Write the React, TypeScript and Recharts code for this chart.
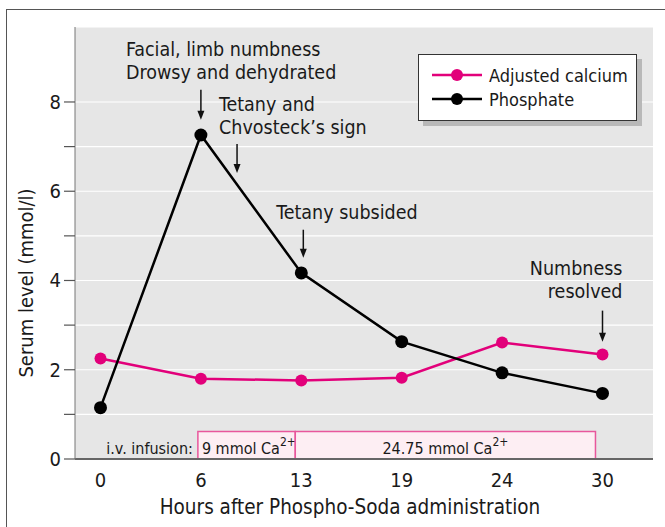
import { LineChart, Line, XAxis, YAxis, CartesianGrid, Legend, ReferenceArea, ReferenceDot } from 'recharts'

const hours = ['0', '6', '13', '19', '24', '30']
const calcium = [2.25, 1.8, 1.76, 1.82, 2.61, 2.34]
const phosphate = [1.15, 7.26, 4.17, 2.63, 1.93, 1.47]
const yTicks = [0, 1, 2, 3, 4, 5, 6, 7, 8]

// infusion periods, in x-index units
const infusionFrom = [0.97, 1.94]
const infusionTo = [1.94, 4.93]
const infusionDose = ['9 mmol Ca', '24.75 mmol Ca']

// annotation arrow tips (x index, serum level) and their text
const noteX = [1, 1.36, 2.02, 5]
const noteY = [7.6, 6.41, 4.51, 2.63]
const noteText = [
  ['Facial, limb numbness', 'Drowsy and dehydrated'],
  ['Tetany and', 'Chvosteck\u2019s sign'],
  ['Tetany subsided'],
  ['Numbness', 'resolved'],
]

const FONT = '"DejaVu Sans Condensed", "Liberation Sans", sans-serif'
const PINK = '#e2007a'
const TEXT = '#1a1a1a'

const data = hours.map((h, i) => ({ idx: i, hour: h, calcium: calcium[i], phosphate: phosphate[i] }))

// text offsets relative to arrow tip
const noteLayout = [
  { dx: -75, dy: -64, anchor: 'start', len: 30 },
  { dx: -18, dy: -62, anchor: 'start', len: 29 },
  { dx: -27, dy: -39, anchor: 'start', len: 28 },
  { dx: 20, dy: -67, anchor: 'end', len: 31 },
]
const LINE_GAP = 23

function Note({ cx, cy, i }: any) {
  const l = noteLayout[i]
  return (
    <g>
      <line x1={cx} y1={cy - l.len} x2={cx} y2={cy - 6} stroke="#111" strokeWidth={1.5} />
      <path d={`M${cx - 3.5},${cy - 9} L${cx + 3.5},${cy - 9} L${cx},${cy} Z`} fill="#111" />
      {noteText[i].map((t, k) => (
        <text key={k} x={cx + l.dx} y={cy + l.dy + k * LINE_GAP} textAnchor={l.anchor} fontSize={19.5} fill={TEXT} fontFamily={FONT}>
          {t}
        </text>
      ))}
    </g>
  )
}

function YTick({ x, y, payload }: any) {
  if (payload.value % 2 !== 0) return null
  return (
    <text x={x} y={y + 7} textAnchor="end" fontSize={20} fill={TEXT} fontFamily={FONT}>
      {payload.value}
    </text>
  )
}

function XTick({ x, y, payload }: any) {
  return (
    <text x={x} y={y + 26} textAnchor="middle" fontSize={20} fill={TEXT} fontFamily={FONT}>
      {hours[payload.value]}
    </text>
  )
}

function LegendBox() {
  const rows = [
    { name: 'Adjusted calcium', color: PINK },
    { name: 'Phosphate', color: '#000' },
  ]
  return (
    <div style={{ background: '#fff', border: '1px solid #333', boxShadow: '5px 5px 0 #b8b8b8', width: 219, height: 67, boxSizing: 'border-box', paddingTop: 8, paddingLeft: 13 }}>
      {rows.map((r) => (
        <div key={r.name} style={{ display: 'flex', alignItems: 'center', height: 24 }}>
          <svg width={52} height={14}>
            <line x1={0} y1={7} x2={50} y2={7} stroke={r.color} strokeWidth={2.5} />
            <circle cx={25} cy={7} r={6} fill={r.color} />
          </svg>
          <span style={{ fontSize: 18, color: TEXT, marginLeft: 5, fontFamily: FONT }}>{r.name}</span>
        </div>
      ))}
    </div>
  )
}

function InfusionLabel({ viewBox, i }: any) {
  const { x, y, width, height } = viewBox
  const first = i === 0
  return (
    <g fontFamily={FONT} fill={TEXT}>
      {first && (
        <text x={x - 5} y={y + height - 5} textAnchor="end" fontSize={16}>i.v. infusion:</text>
      )}
      <text x={first ? x + 4 : x + width / 2} y={y + height - 5} textAnchor={first ? 'start' : 'middle'} fontSize={16}>
        {infusionDose[i]}
        <tspan dy={-8} fontSize={12}>2+</tspan>
      </text>
    </g>
  )
}

export default function App() {
  return (
    <div style={{ position: 'absolute', left: 0, top: 0, width: 665, height: 527, overflow: 'hidden', background: '#fff' }}>
      <div style={{ position: 'absolute', left: 6, top: 9, width: 900, height: 900, borderLeft: '1.5px solid #555', borderTop: '1.5px solid #555' }} />
      <LineChart width={665} height={527} data={data} margin={{ top: 27, right: 12, bottom: 0, left: 0 }} style={{ position: 'absolute', left: 0, top: 0 }}>
        <CartesianGrid vertical={false} stroke="#fff" strokeWidth={1.2} fill="#e6e6e6" fillOpacity={1} />
        <XAxis
          type="number"
          dataKey="idx"
          domain={[-0.254, 5.503]}
          ticks={[0, 1, 2, 3, 4, 5]}
          height={68}
          tickLine={false}
          tickSize={0}
          tick={<XTick />}
          axisLine={{ stroke: '#666', strokeWidth: 2 }}
          label={{
            content: ({ viewBox }: any) => (
              <text x={viewBox.x + viewBox.width / 2 - 14} y={viewBox.y + 55} textAnchor="middle" fontSize={20.5} fill={TEXT} fontFamily={FONT}>
                Hours after Phospho-Soda administration
              </text>
            ),
          }}
        />
        <YAxis
          domain={[0, 9.68]}
          ticks={yTicks}
          width={75}
          tickSize={11}
          tickMargin={3}
          tickLine={{ stroke: '#555', strokeWidth: 1.2 }}
          axisLine={{ stroke: '#777', strokeWidth: 1 }}
          tick={<YTick />}
          label={{
            content: () => (
              <text x={0} y={0} transform="translate(33, 283) rotate(-90)" textAnchor="middle" fontSize={20} fill={TEXT} fontFamily={FONT}>
                Serum level (mmol/l)
              </text>
            ),
          }}
        />
        {infusionFrom.map((f, i) => (
          <ReferenceArea
            key={i}
            x1={f}
            x2={infusionTo[i]}
            y1={0}
            y2={0.615}
            fill="#fdeef3"
            fillOpacity={1}
            stroke="#e8579c"
            strokeWidth={1.5}
            label={<InfusionLabel i={i} />}
          />
        ))}
        <Legend
          layout="vertical"
          align="center"
          verticalAlign="middle"
          content={<LegendBox />}
          wrapperStyle={{ position: 'absolute', left: 418, top: 54, width: 'auto', height: 'auto' }}
        />
        <Line dataKey="calcium" name="Adjusted calcium" stroke={PINK} strokeWidth={2.5} dot={{ r: 6, fill: PINK, stroke: 'none' }} isAnimationActive={false} />
        <Line dataKey="phosphate" name="Phosphate" stroke="#000" strokeWidth={2.5} dot={{ r: 6.5, fill: '#000', stroke: 'none' }} isAnimationActive={false} />
        {noteX.map((x, i) => (
          <ReferenceDot key={i} x={x} y={noteY[i]} r={0} shape={(p: any) => <Note cx={p.cx} cy={p.cy} i={i} />} />
        ))}
      </LineChart>
    </div>
  )
}
